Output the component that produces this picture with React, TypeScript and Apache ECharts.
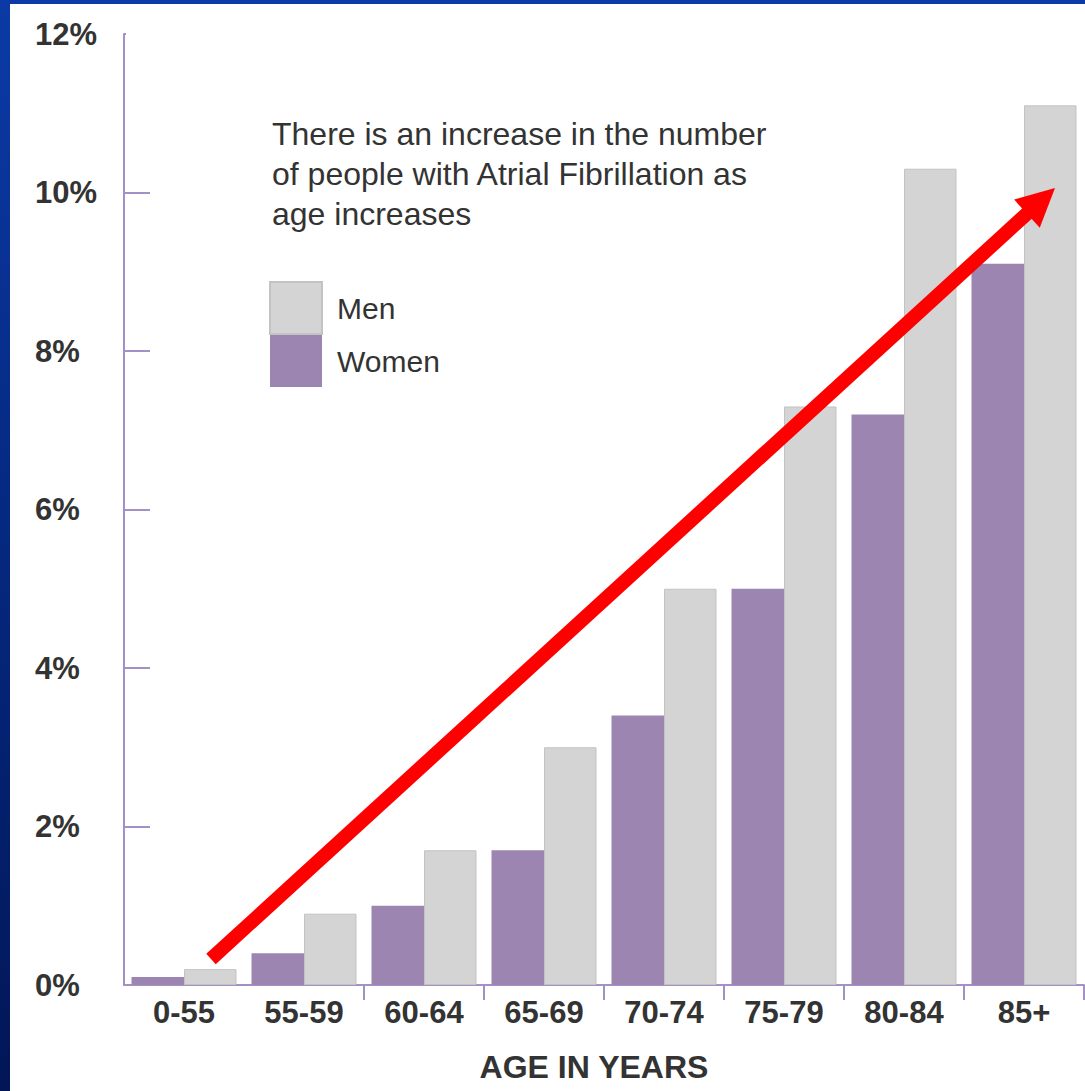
import React, { useEffect, useRef } from "react";
import * as echarts from "echarts";

const categories = ["0-55", "55-59", "60-64", "65-69", "70-74", "75-79", "80-84", "85+"];
const womenValues = [0.1, 0.4, 1.0, 1.7, 3.4, 5.0, 7.2, 9.1];
const menValues = [0.2, 0.9, 1.7, 3.0, 5.0, 7.3, 10.3, 11.1];
const annotationLines = [
  "There is an increase in the number",
  "of people with Atrial Fibrillation as",
  "age increases",
];

const FONT = "'Liberation Sans', Arial, sans-serif";
const AXIS_COLOR = "#a391c6";
const TEXT_COLOR = "#333333";

export default function App() {
  const ref = useRef<HTMLDivElement>(null);

  useEffect(() => {
    if (!ref.current) return;
    const chart = echarts.init(ref.current, undefined, { renderer: "svg" });

    // arrow geometry (decoration)
    const tip = [1045, 184];
    const start = [201, 955];
    const dx = tip[0] - start[0];
    const dy = tip[1] - start[1];
    const len = Math.sqrt(dx * dx + dy * dy);
    const ux = dx / len;
    const uy = dy / len;
    const headLen = 38;
    const headHalf = 19;
    const base = [tip[0] - headLen * ux, tip[1] - headLen * uy];
    const nx = -uy;
    const ny = ux;

    chart.setOption({
      animation: false,
      backgroundColor: "#ffffff",
      textStyle: { fontFamily: FONT },
      grid: { left: 114, top: 30, right: 1, bottom: 106, containLabel: false },
      legend: {
        data: ["Men", "Women"],
        orient: "vertical",
        left: 254,
        top: 272,
        itemWidth: 52,
        itemHeight: 52,
        itemGap: 0,
        icon: "rect",
        textStyle: {
          fontSize: 30,
          color: TEXT_COLOR,
          fontFamily: FONT,
          padding: [0, 0, 0, 10],
        },
      },
      xAxis: {
        type: "category",
        data: categories,
        boundaryGap: true,
        name: "AGE IN YEARS",
        nameLocation: "middle",
        nameGap: 66,
        nameTextStyle: {
          fontSize: 32,
          fontWeight: "bold",
          color: TEXT_COLOR,
          fontFamily: FONT,
          padding: [0, 20, 0, 0],
        },
        axisLine: { show: true, lineStyle: { color: AXIS_COLOR, width: 2 } },
        axisTick: {
          show: true,
          length: 15,
          interval: (index: number) => index >= 2,
          lineStyle: { color: AXIS_COLOR, width: 2 },
        },
        axisLabel: {
          fontSize: 31,
          fontWeight: "bold",
          color: TEXT_COLOR,
          margin: 12,
          fontFamily: FONT,
        },
        splitLine: { show: false },
      },
      yAxis: {
        type: "value",
        min: 0,
        max: 12,
        interval: 2,
        axisLine: { show: true, lineStyle: { color: AXIS_COLOR, width: 2 } },
        axisTick: {
          show: true,
          inside: true,
          length: 26,
          lineStyle: { color: AXIS_COLOR, width: 2 },
        },
        axisLabel: {
          formatter: "{value}%",
          fontSize: 31,
          fontWeight: "bold",
          color: TEXT_COLOR,
          align: "left",
          margin: 89,
          fontFamily: FONT,
        },
        splitLine: { show: false },
      },
      series: [
        {
          name: "Women",
          type: "bar",
          data: womenValues,
          barGap: "0%",
          barCategoryGap: "12.5%",
          itemStyle: { color: "#9d85b2" },
        },
        {
          name: "Men",
          type: "bar",
          data: menValues,
          barGap: "0%",
          barCategoryGap: "12.5%",
          itemStyle: { color: "#d4d4d4", borderColor: "#c3c3c3", borderWidth: 1 },
        },
      ],
      graphic: [
        {
          // hide the tick at the top of the value axis (absent in the original)
          type: "rect",
          z: 100,
          shape: { x: 116, y: 27, width: 30, height: 6 },
          style: { fill: "#ffffff" },
        },
        {
          type: "text",
          left: 262,
          top: 110,
          z: 10,
          style: {
            text: annotationLines.join("\n"),
            fontSize: 32,
            lineHeight: 40,
            fill: TEXT_COLOR,
            fontFamily: FONT,
          },
        },
        {
          type: "line",
          z: 20,
          shape: { x1: start[0], y1: start[1], x2: base[0] + ux * 2, y2: base[1] + uy * 2 },
          style: { stroke: "#ff0000", lineWidth: 14 },
        },
        {
          type: "polygon",
          z: 20,
          shape: {
            points: [
              tip,
              [base[0] + headHalf * nx, base[1] + headHalf * ny],
              [base[0] - headHalf * nx, base[1] - headHalf * ny],
            ],
          },
          style: { fill: "#ff0000" },
        },
      ],
    });

    return () => chart.dispose();
  }, []);

  return (
    <div
      style={{
        position: "absolute",
        left: 0,
        top: 0,
        width: 1085,
        height: 1091,
        background: "linear-gradient(180deg, #0b3aa6 0%, #05287f 50%, #021656 100%)",
        overflow: "hidden",
      }}
    >
      <div
        ref={ref}
        style={{ position: "absolute", left: 10, top: 4, width: 1075, height: 1087 }}
      />
    </div>
  );
}
